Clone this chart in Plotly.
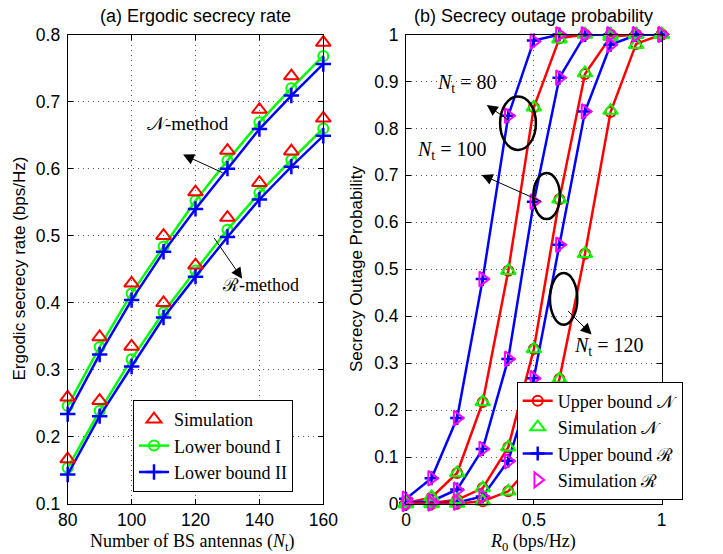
import plotly.graph_objects as go

# ---------------- data: (a) ergodic secrecy rate ----------------
Nt = [80, 90, 100, 110, 120, 130, 140, 150, 160]
N_sim = [0.259, 0.349, 0.429, 0.500, 0.565, 0.627, 0.688, 0.738, 0.788]
N_lb1 = [0.246, 0.334, 0.414, 0.484, 0.552, 0.612, 0.669, 0.720, 0.768]
N_lb2 = [0.234, 0.323, 0.404, 0.476, 0.540, 0.600, 0.659, 0.709, 0.756]
R_sim = [0.167, 0.254, 0.335, 0.400, 0.456, 0.527, 0.579, 0.626, 0.675]
R_lb1 = [0.154, 0.239, 0.316, 0.386, 0.448, 0.509, 0.564, 0.613, 0.660]
R_lb2 = [0.144, 0.231, 0.305, 0.378, 0.439, 0.498, 0.554, 0.603, 0.649]

# ---------------- data: (b) secrecy outage probability ----------------
R0 = [0.0, 0.1, 0.2, 0.3, 0.4, 0.5, 0.6, 0.7, 0.8, 0.9, 1.0]
ubN_80 = [0.002, 0.014, 0.066, 0.217, 0.497, 0.845, 0.992, 1.0, 1.0, 1.0, 1.0]
ubN_100 = [0.0, 0.002, 0.009, 0.034, 0.121, 0.330, 0.649, 0.916, 0.995, 1.0, 1.0]
ubN_120 = [0.0, 0.0, 0.001, 0.006, 0.027, 0.090, 0.266, 0.533, 0.835, 0.980, 1.0]
simN_80 = [0.002, 0.015, 0.066, 0.217, 0.497, 0.845, 0.990, 1.0, 1.0, 1.0, 1.0]
simN_100 = [0.0, 0.002, 0.009, 0.034, 0.121, 0.330, 0.649, 0.918, 0.995, 1.0, 1.0]
simN_120 = [0.0, 0.0, 0.001, 0.006, 0.027, 0.090, 0.266, 0.533, 0.838, 0.978, 1.0]
ubR_80 = [0.011, 0.055, 0.183, 0.479, 0.827, 0.987, 1.0, 1.0, 1.0, 1.0, 1.0]
ubR_100 = [0.002, 0.006, 0.031, 0.117, 0.309, 0.644, 0.908, 0.999, 1.0, 1.0, 1.0]
ubR_120 = [0.0, 0.001, 0.003, 0.016, 0.092, 0.268, 0.552, 0.836, 0.978, 0.999, 1.0]
simR_80 = [0.011, 0.055, 0.183, 0.479, 0.827, 0.985, 1.0, 1.0, 1.0, 1.0, 1.0]
simR_100 = [0.002, 0.006, 0.030, 0.117, 0.309, 0.644, 0.908, 1.0, 1.0, 1.0, 1.0]
simR_120 = [0.0, 0.001, 0.003, 0.016, 0.091, 0.268, 0.552, 0.836, 0.978, 1.0, 1.0]

RED, GREEN, BLUE, MAG = "rgb(255,0,0)", "rgb(0,255,0)", "rgb(0,0,255)", "rgb(255,0,255)"
SANS = "Liberation Sans, Arial, sans-serif"
SERIF = "Liberation Serif, Times New Roman, serif"

fig = go.Figure()

# ---- left panel ----
for i, (lb1, lb2) in enumerate([(N_lb1, N_lb2), (R_lb1, R_lb2)]):
    fig.add_trace(go.Scatter(x=Nt, y=lb1, mode="lines+markers", name="Lower bound I",
                             line=dict(color=GREEN, width=2.5),
                             marker=dict(symbol="circle-open", size=10, color=GREEN, line=dict(width=2)),
                             legend="legend", legendrank=2, showlegend=(i == 0),
                             cliponaxis=False, xaxis="x", yaxis="y"))
    fig.add_trace(go.Scatter(x=Nt, y=lb2, mode="lines+markers", name="Lower bound II",
                             line=dict(color=BLUE, width=2.5),
                             marker=dict(symbol="cross-thin-open", size=11, color=BLUE, line=dict(width=2.5, color=BLUE)),
                             legend="legend", legendrank=3, showlegend=(i == 0),
                             cliponaxis=False, xaxis="x", yaxis="y"))
for i, s in enumerate([N_sim, R_sim]):
    fig.add_trace(go.Scatter(x=Nt, y=s, mode="markers", name="Simulation",
                             marker=dict(symbol="triangle-up-open", size=13, color=RED, line=dict(width=2)),
                             legend="legend", legendrank=1, showlegend=(i == 0),
                             cliponaxis=False, xaxis="x", yaxis="y"))

# ---- right panel ----
for i, (n, r) in enumerate([(ubN_80, ubR_80), (ubN_100, ubR_100), (ubN_120, ubR_120)]):
    fig.add_trace(go.Scatter(x=R0, y=r, mode="lines+markers", name="Upper bound ℛ",
                             line=dict(color=BLUE, width=2.5),
                             marker=dict(symbol="cross-thin-open", size=10, color=BLUE, line=dict(width=2.5, color=BLUE)),
                             legend="legend2", legendrank=3, showlegend=(i == 0),
                             cliponaxis=False, xaxis="x2", yaxis="y2"))
    fig.add_trace(go.Scatter(x=R0, y=n, mode="lines+markers", name="Upper bound 𝒩",
                             line=dict(color=RED, width=2.5),
                             marker=dict(symbol="circle-open", size=10, color=RED, line=dict(width=2)),
                             legend="legend2", legendrank=1, showlegend=(i == 0),
                             cliponaxis=False, xaxis="x2", yaxis="y2"))
for i, (n, r) in enumerate([(simN_80, simR_80), (simN_100, simR_100), (simN_120, simR_120)]):
    fig.add_trace(go.Scatter(x=R0, y=n, mode="markers", name="Simulation 𝒩",
                             marker=dict(symbol="triangle-up-open", size=13, color=GREEN, line=dict(width=2)),
                             legend="legend2", legendrank=2, showlegend=(i == 0),
                             cliponaxis=False, xaxis="x2", yaxis="y2"))
    fig.add_trace(go.Scatter(x=R0, y=r, mode="markers", name="Simulation ℛ",
                             marker=dict(symbol="triangle-right-open", size=13, color=MAG, line=dict(width=2)),
                             legend="legend2", legendrank=4, showlegend=(i == 0),
                             cliponaxis=False, xaxis="x2", yaxis="y2"))

W, H = 723, 554
ydom = [1 - 504 / H, 1 - 34.5 / H]
axis_common = dict(showline=True, linecolor="black", linewidth=1, mirror="ticks",
                   ticks="inside", ticklen=5, tickcolor="black",
                   showgrid=True, gridcolor="rgb(90,90,90)", gridwidth=1, griddash="1px,4px",
                   zeroline=False, tickfont=dict(family=SANS, size=17.5, color="black"))

fig.update_layout(
    width=W, height=H,
    margin=dict(l=0, r=0, t=0, b=0, autoexpand=False),
    paper_bgcolor="white", plot_bgcolor="white",
    xaxis=dict(domain=[67.7 / W, 323.3 / W], range=[80, 160], tickvals=[80, 100, 120, 140, 160],
               anchor="y", **axis_common),
    yaxis=dict(domain=ydom, range=[0.1, 0.8], dtick=0.1, tick0=0.1, anchor="x",
               ticklabelstandoff=3, **axis_common),
    xaxis2=dict(domain=[406 / W, 661.7 / W], range=[0, 1], tickvals=[0, 0.5, 1],
                ticktext=["0", "0.5", "1"], anchor="y2", **axis_common),
    yaxis2=dict(domain=ydom, range=[0, 1], dtick=0.1, tick0=0, anchor="x2",
                ticklabelstandoff=3, **axis_common),
    legend=dict(x=133 / W, y=1 - 446 / H, xanchor="left", yanchor="middle",
                bgcolor="white", bordercolor="black", borderwidth=1,
                font=dict(family=SERIF, size=18, color="black"), tracegroupgap=0),
    legend2=dict(x=516.7 / W, y=1 - 440.5 / H, xanchor="left", yanchor="middle",
                 bgcolor="white", bordercolor="black", borderwidth=1,
                 font=dict(family=SERIF, size=18, color="black"), tracegroupgap=0),
)

ann = []


def paper_text(text, xpx, ypx, family, size, angle=0):
    return dict(text=text, x=xpx / W, y=1 - ypx / H, xref="paper", yref="paper",
                xanchor="center", yanchor="middle", textangle=angle, showarrow=False,
                font=dict(family=family, size=size, color="black"))


# titles
ann.append(paper_text("(a) Ergodic secrecy rate", 195.5, 16, SANS, 18))
ann.append(paper_text("(b) Secrecy outage probability", 533.9, 16, SANS, 18))
ann.append(paper_text("Ergodic secrecy rate (bps/Hz)", 18.5, 269, SANS, 17, -90))
ann.append(paper_text("Secrecy Outage Probability", 356, 269, SANS, 17, -90))
ann.append(paper_text("Number of BS antennas (<i>N</i><sub>t</sub>)", 192, 542, SERIF, 18))
ann.append(paper_text("<i>R</i><sub>0</sub> (bps/Hz)", 532.5, 542, SERIF, 18))

arrow = dict(showarrow=True, arrowhead=2, arrowsize=2.2, arrowwidth=1, arrowcolor="black", text="", standoff=0)
# left annotations
ann.append(dict(text="𝒩-method", x=117.7, y=0.668, xref="x", yref="y", showarrow=False,
                xanchor="center", yanchor="middle", font=dict(family=SERIF, size=19, color="black")))
ann.append(dict(text="ℛ-method", x=140.2, y=0.426, xref="x", yref="y", showarrow=False,
                xanchor="center", yanchor="middle", font=dict(family=SERIF, size=18, color="black")))
ann.append(dict(x=116.1, y=0.621, ax=128.9, ay=0.593, xref="x", yref="y", axref="x", ayref="y", **arrow))
ann.append(dict(x=134.6, y=0.436, ax=125.5, ay=0.499, xref="x", yref="y", axref="x", ayref="y", **arrow))
# right annotations
for txt, tx, ty, hx, hy, sx, sy in [("80", 0.240, 0.896, 0.316, 0.850, 0.407, 0.815),
                                     ("100", 0.179, 0.754, 0.296, 0.701, 0.535, 0.643),
                                     ("120", 0.794, 0.336, 0.726, 0.361, 0.628, 0.414)]:
    ann.append(dict(text="<i>N</i><sub>t</sub> = " + txt, x=tx, y=ty, xref="x2", yref="y2", showarrow=False,
                    xanchor="center", yanchor="middle", font=dict(family=SERIF, size=20, color="black")))
    ann.append(dict(x=hx, y=hy, ax=sx, ay=sy, xref="x2", yref="y2", axref="x2", ayref="y2", **arrow))
fig.update_layout(annotations=ann)

for x0, x1, y0, y1 in [(0.368, 0.508, 0.754, 0.868), (0.498, 0.602, 0.607, 0.705), (0.563, 0.670, 0.382, 0.492)]:
    fig.add_shape(type="circle", xref="x2", yref="y2", x0=x0, x1=x1, y0=y0, y1=y1,
                  line=dict(color="black", width=2.5), layer="above")

fig.write_html("out.html")
